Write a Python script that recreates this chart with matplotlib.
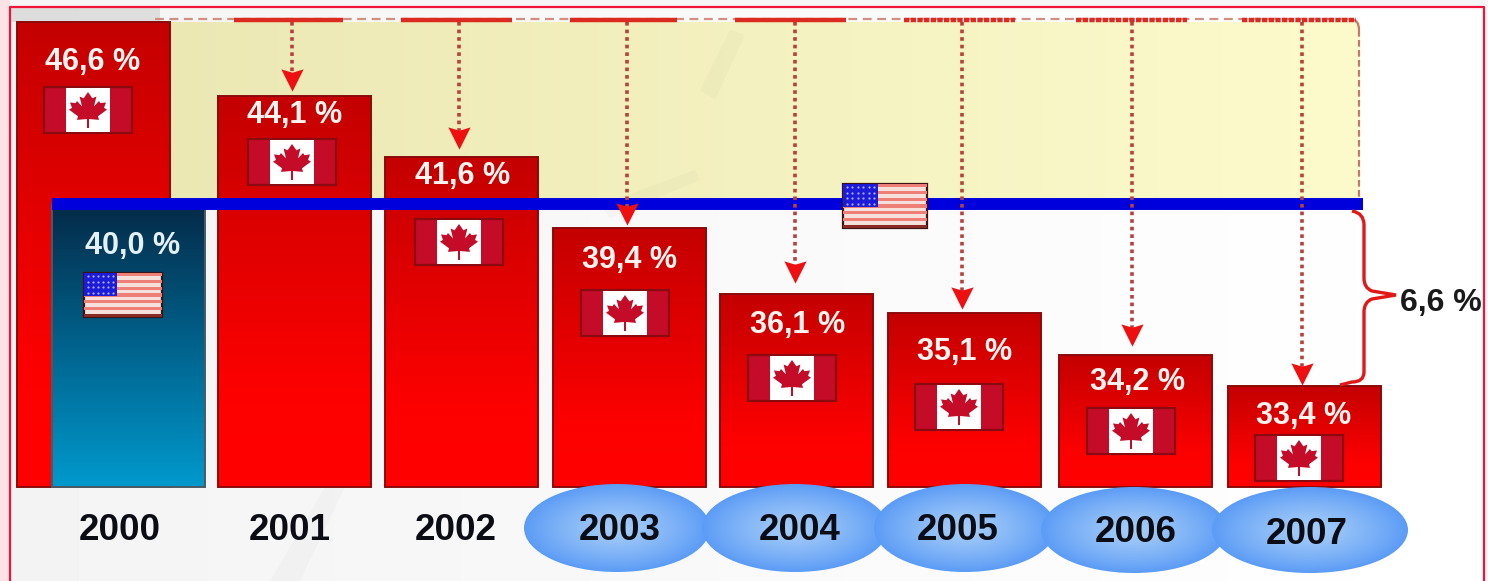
import numpy as np
import matplotlib
matplotlib.use('Agg')
import matplotlib.pyplot as plt
from matplotlib.colors import LinearSegmentedColormap, to_rgb
from matplotlib.patches import Ellipse, Polygon, PathPatch, Rectangle
from matplotlib.path import Path
from matplotlib.transforms import offset_copy

plt.rcParams['font.family'] = ['Liberation Sans', 'DejaVu Sans']

years = ['2000', '2001', '2002', '2003', '2004', '2005', '2006', '2007']
canada = [46.6, 44.1, 41.6, 39.4, 36.1, 35.1, 34.2, 33.4]
usa = 40.0
base = 30.0

# the picture's axis is hand drawn, not linear: value -> pixel row
scale_values = [26.0, 30.0, 33.4, 34.2, 35.1, 36.1, 39.4, 40.0, 41.6, 44.1, 46.6, 47.4]
scale_rows = [581, 487, 386, 355, 313, 294, 228, 204, 157, 96, 22, 0]
W, H = 1488, 581


def forward(v):
    return np.interp(v, scale_values, H - np.array(scale_rows, dtype=float))


def inverse(y):
    return np.interp(y, H - np.array(scale_rows, dtype=float), scale_values)


bar_left = [17, 218, 385, 553, 720, 888, 1059, 1228]
bar_width = 153
usa_left = 52
arrow_x = [292, 459, 627, 795, 962, 1132, 1302]
arrow_gap = [6, 9, 4, 12, 5, 10, 2]
top_segments = [(234, 343), (401, 512), (570, 677), (735, 846), (904, 1015), (1076, 1187), (1242, 1356)]
label_pos = [(93, 62), (295, 115), (463, 176), (629, 260), (798, 325), (965, 352), (1137, 382), (1304, 416)]
flag_pos = [(88, 110), (292, 162), (459, 242), (625, 313), (792, 378), (959, 407), (1131, 431), (1299, 458)]
year_pos = [(120, 531), (290, 531), (456, 531), (620, 531), (800, 530), (958, 530), (1136, 532), (1307, 535)]
ellipses = [(617, 528, 186, 88), (795, 528, 186, 88), (965, 528, 182, 88), (1134, 530, 186, 86), (1310, 530, 196, 86)]

red_cmap = LinearSegmentedColormap.from_list('r', [(0, '#c40000'), (0.75, '#fc0000'), (1, '#ff0000')])
blue_cmap = LinearSegmentedColormap.from_list('b', ['#042a48', '#00628c', '#0098cc'])

fig = plt.figure(figsize=(W / 100, H / 100), dpi=100)
bg = fig.add_axes([0, 0, 1, 1], zorder=0)
ax = fig.add_axes([0, 0, 1, 1], zorder=1)
top = fig.add_axes([0, 0, 1, 1], zorder=2)
ax.patch.set_alpha(0)
top.patch.set_alpha(0)

# background
shade = np.linspace(0.955, 1.0, 300)[None, :].repeat(2, axis=0)
bg.imshow(shade, extent=[10, 1484, 581, 7], cmap='gray', vmin=0, vmax=1, aspect='auto')
bg.add_patch(Rectangle((0, 0), W, 7, fc='#f6f6f6', ec='none'))
bg.add_patch(Rectangle((1485, 0), 3, H, fc='#f6f6f6', ec='none'))
pink = np.ones((2, 90, 3))
pink[:, :, 1] = np.linspace(0.84, 0.98, 90)
pink[:, :, 2] = np.linspace(0.86, 0.98, 90)
bg.imshow(pink, extent=[0, 90, 7, 0], aspect='auto')
bg.add_patch(Rectangle((0, 0), 10, H, fc='#fde3e6', ec='none'))
bg.add_patch(Rectangle((10, 8), 150, 14, fc='#000000', alpha=0.09, ec='none'))

yellow = np.zeros((2, 300, 3))
for c in range(3):
    yellow[:, :, c] = np.linspace(to_rgb('#ebe8b4')[c], to_rgb('#fdfbcc')[c], 300)
bg.imshow(yellow, extent=[150, 1360, 198, 22], aspect='auto')

# faint folds of the backdrop
for pts in [[(345, 487), (300, 581), (270, 581), (325, 487)],
            [(610, 218), (700, 180), (695, 170), (600, 205)],
            [(700, 90), (730, 30), (745, 35), (715, 100)]]:
    bg.add_patch(Polygon(pts, fc='#000000', alpha=0.018, ec='none'))

# bars, on the picture's own value scale
ax.set_yscale('function', functions=(forward, inverse))
ax.set_xlim(0, W)
ax.set_ylim(scale_values[0], scale_values[-1])


def gradient_bar(left, value, cmap, edge, z):
    edges = inverse(np.linspace(forward(base), forward(value), 90))
    xs = [left, left + bar_width]
    C = np.linspace(1, 0, 89)[:, None]
    ax.pcolormesh(xs, edges, C, cmap=cmap, vmin=0, vmax=1, zorder=z)
    ax.bar(left, value - base, bar_width, bottom=base, align='edge', fc='none', ec=edge, lw=1.4, zorder=z + 0.1)


for left, value in zip(bar_left, canada):
    gradient_bar(left, value, red_cmap, '#8c0a0a', 2)
gradient_bar(usa_left, usa, blue_cmap, '#4a5a66', 3)

ax.hlines(usa, usa_left, 1363, color='#0000dc', lw=8.6, zorder=4)

# arrows from the 2000 level down to each year
head = [(-1, 1), (0, -1), (1, 1), (0, 0.7)]
for x, value, gap in zip(arrow_x, canada[1:], arrow_gap):
    tip = offset_copy(ax.transData, fig=fig, y=(gap + 10) * 0.72, units='points')
    line_end = inverse(forward(value) + gap + 16)
    ax.plot([x, x], [canada[0], line_end], color='#b8403c', lw=2.6, ls=(0, (1, 1.1)), zorder=5)
    ax.plot([x], [value], marker=head, ms=16, color='#ee1010', mec='none', transform=tip, zorder=6)

ax.set_xlim(0, W)
ax.set_ylim(scale_values[0], scale_values[-1])
ax.axis('off')


def canada_flag(cx, cy, w=88, h=46):
    top.add_patch(Rectangle((cx - w / 2, cy - h / 2), w, h, fc='#c40c28', ec='#8a0a10', lw=1.6, zorder=3))
    top.add_patch(Rectangle((cx - w / 4, cy - h / 2 + 1), w / 2, h - 2, fc='white', ec='none', zorder=3))
    half = [(0.05, -1), (0.05, -0.5), (0.55, -0.55), (0.5, -0.35), (0.95, 0.02), (0.8, 0.12), (0.9, 0.42),
            (0.62, 0.38), (0.55, 0.5), (0.3, 0.2), (0.42, 0.75), (0.22, 0.65), (0, 1)]
    pts = half + [(-x, y) for x, y in half[-2::-1]]
    top.add_patch(Polygon([(cx + x * 20, cy - y * 18) for x, y in pts], fc='#c40c28', ec='none', zorder=4))


def usa_flag(cx, cy, w, h):
    x0, y0 = cx - w / 2, cy - h / 2
    top.add_patch(Rectangle((x0, y0), w, h, fc='#f6e0dc', ec='#3a1414', lw=1.6, zorder=3))
    n = 13
    sh = h / n
    for i in range(0, n, 2):
        col = '#8a2a24' if i == n - 1 else '#ee7f76'
        top.add_patch(Rectangle((x0, y0 + i * sh), w, sh, fc=col, ec='none', zorder=3))
    top.add_patch(Rectangle((x0, y0), w * 0.42, h * 0.52, fc='#1c1cd8', ec='none', zorder=4))
    for row in range(4):
        xs = x0 + w * 0.42 * (np.arange(6) + 0.7) / 6.4
        top.scatter(xs, np.full(6, y0 + h * 0.52 * (row + 0.6) / 4.2), s=2.5, c='#b0b0ff', lw=0, zorder=5)


for (cx, cy), (lx, ly), value in zip(flag_pos, label_pos, canada):
    canada_flag(cx, cy)
    top.text(lx, ly, f'{value:.1f} %'.replace('.', ','), color='#fff4f0', fontsize=22, fontweight='bold',
             ha='center', va='center', zorder=6)

usa_flag(123, 295, 78, 44)
usa_flag(885, 206, 84, 44)
top.text(133, 246, f'{usa:.1f} %'.replace('.', ','), color='#e4f0f4', fontsize=22, fontweight='bold',
         ha='center', va='center', zorder=6)

# year ellipses
yy, xx = np.mgrid[-1:1:120j, -1:1:240j]
r = np.clip(np.sqrt(xx ** 2 + yy ** 2), 0, 1)[..., None]
c_in, c_out = np.array(to_rgb('#a4ccf8')), np.array(to_rgb('#5c9cf6'))
ell_img = c_in + (c_out - c_in) * r ** 1.3
for cx, cy, w, h in ellipses:
    e = Ellipse((cx, cy), w, h, fc='none', ec='none', zorder=2)
    top.add_patch(e)
    im = top.imshow(ell_img, extent=[cx - w / 2, cx + w / 2, cy + h / 2, cy - h / 2], aspect='auto', zorder=2)
    im.set_clip_path(e)

for (x, y), year in zip(year_pos, years):
    top.text(x, y, year, color='#0c0c14', fontsize=26.5, fontweight='bold', ha='center', va='center', zorder=6)

# dashed frame of the yellow area
top.plot([155, 1350], [19, 19], color='#d09080', lw=1.6, ls=(0, (4, 2.5)), zorder=1)
top.plot([1359, 1359], [30, 198], color='#c87868', lw=1.6, ls=(0, (3, 1.5)), zorder=1)
top.add_patch(PathPatch(Path([(1350, 19), (1359, 19), (1359, 30)], [Path.MOVETO, Path.CURVE3, Path.CURVE3]),
                        fc='none', ec='#c87868', lw=1.6, zorder=1))
for i, (x0, x1) in enumerate(top_segments):
    style = '-' if i < 4 else (0, (1.2, 0.3))
    top.plot([x0, x1], [20, 20], color='#dc2a20', lw=3.2, ls=style, solid_capstyle='butt', zorder=2)

# bracket
brace = Path([(1352, 211), (1364, 213), (1364, 225),
              (1364, 278), (1364, 288), (1372, 291),
              (1396, 295), (1372, 299),
              (1364, 302), (1364, 312),
              (1364, 372), (1364, 382), (1352, 382), (1340, 385)],
             [Path.MOVETO, Path.CURVE3, Path.CURVE3,
              Path.LINETO, Path.CURVE3, Path.CURVE3,
              Path.LINETO, Path.LINETO,
              Path.CURVE3, Path.CURVE3,
              Path.LINETO, Path.CURVE3, Path.CURVE3, Path.LINETO])
top.add_patch(PathPatch(brace, fc='none', ec='#e01818', lw=2.4, zorder=3))
top.text(1400, 303, f'{usa - canada[-1]:.1f} %'.replace('.', ','), color='#1a1a1a', fontsize=23,
         fontweight='bold', ha='left', va='center', zorder=6)

# outer red frame, open at the bottom
top.plot([10, 10, 1484, 1484], [581, 7, 7, 581], color='#f0143c', lw=1.6, zorder=7, clip_on=False)

for a in (bg, top):
    a.set_xlim(0, W)
    a.set_ylim(H, 0)
    a.axis('off')

fig.savefig('out.png', dpi=100)
